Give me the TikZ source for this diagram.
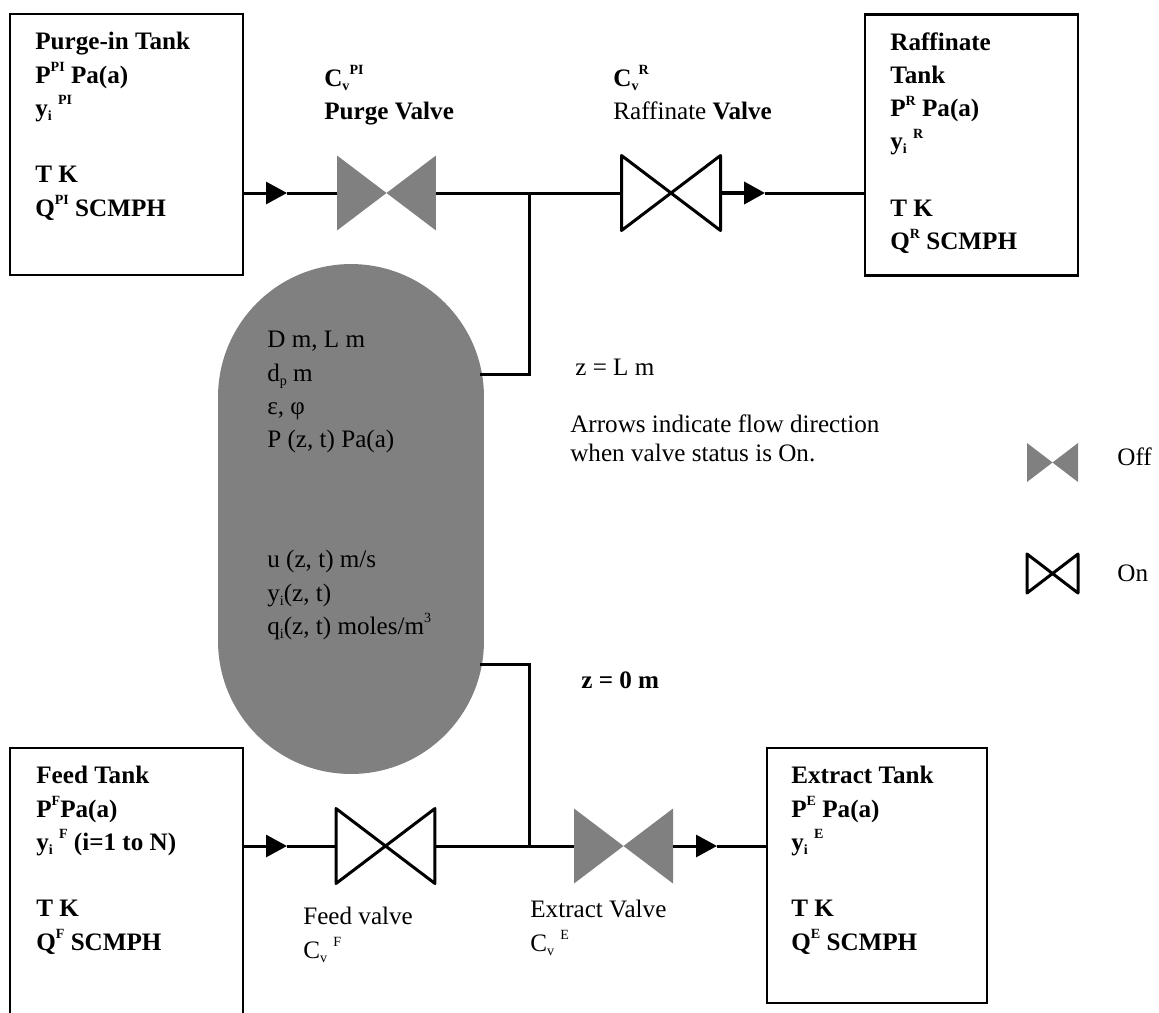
\documentclass[tikz,border=0pt]{standalone}
\usepackage{fontspec}
\setmainfont{Liberation Serif}
\usetikzlibrary{calc, positioning, arrows.meta}
\definecolor{valvegray}{RGB}{128,128,128}

\newcommand{\sps}[1]{\raisebox{1ex}{\fontsize{8}{8}\selectfont #1}}
\newcommand{\sbs}[1]{\raisebox{-0.35ex}{\fontsize{8}{8}\selectfont #1}}

\begin{document}
\begin{tikzpicture}[
    x=0.02cm, y=-0.02cm,
    tankbox/.style={draw, line width=0.056cm, minimum height=5.22cm, inner sep=0pt, outer sep=0pt},
    valvebox/.style={inner sep=0pt, outer sep=0pt, minimum width=1.98cm, minimum height=1.5cm},
    keybox/.style={inner sep=0pt, outer sep=0pt, minimum width=1.02cm, minimum height=0.78cm},
    pipe/.style={line width=0.06cm},
    flow/.style={pipe, -{Triangle[length=0.42cm, width=0.44cm]}},
    label/.style={anchor=base west, inner sep=0pt, font=\fontsize{14.3}{18.95}\selectfont},
    block/.style={anchor=north west, inner sep=0pt, align=left, font=\fontsize{14.3}{18.95}\selectfont},
    boldblock/.style={block, font=\fontsize{14.3}{18.95}\selectfont\bfseries}
]

    % 1. Figura inteira
    \useasboundingbox (0,0) rectangle (1159,1012);
    \clip (0,0) rectangle (1159,1012);

    % 2. Tanques
    \node[tankbox, minimum width=4.66cm] (purge) at (126.5,144.5) {};
    \node[tankbox, minimum width=4.26cm] (raff) at (971.5,145) {};
    \node[tankbox, minimum width=4.66cm, minimum height=5.84cm] (feed) at (126.5,894) {};
    \node[tankbox, minimum width=4.4cm, minimum height=5.1cm] (extract) at (877,875.5) {};

    % 3. Coluna
    \node[fill=valvegray, rounded corners=2.66cm, minimum width=5.32cm, minimum height=10.2cm,
          inner sep=0pt, outer sep=0pt] (column) at (351,519) {};

    % 4. Valvulas
    \node[valvebox] (pv) at (386.5,193) {};
    \node[valvebox] (rv) at (671,193) {};
    \node[valvebox] (fv) at (385.5,846) {};
    \node[valvebox] (ev) at (623.5,846) {};
    \node[keybox] (offkey) at (1052.5,462.5) {};
    \node[keybox] (onkey) at (1052.5,573.5) {};

    \foreach \v in {pv, ev, offkey}
        \fill[valvegray] (\v.north west) -- (\v.south east) -- (\v.north east) -- (\v.south west) -- cycle;
    \foreach \v in {rv, fv, onkey}
        \draw[pipe, line join=round] (\v.north west) -- (\v.south east) -- (\v.north east) -- (\v.south west) -- cycle;

    % 5. Juncoes
    \coordinate (jtop) at (529,193);
    \coordinate (jbot) at (529,846);
    \coordinate (ctop) at (480,374);
    \coordinate (cbot) at (480,664);

    % 6. Linhas
    \coordinate (apurge) at (287,193);
    \draw[flow] (purge.east |- apurge) -- (apurge);
    \draw[pipe] (apurge) -- (pv.west);
    \draw[pipe] (pv.east) -- (rv.west);
    \coordinate (araff) at (765,193);
    \draw[flow, line width=0.08cm] (rv.east) -- (araff);
    \draw[pipe] (araff) -- (raff.west |- araff);

    \coordinate (afeed) at (287,846);
    \draw[flow] (feed.east |- afeed) -- (afeed);
    \draw[pipe] (afeed) -- (fv.west);
    \draw[pipe] (fv.east) -- (ev.west);
    \coordinate (aext) at (717,846);
    \draw[flow] (ev.east) -- (aext);
    \draw[pipe] (aext) -- (extract.west |- aext);

    \draw[pipe] (jtop) -- (jtop |- ctop) -- (ctop);
    \draw[pipe] (cbot) -- (jbot |- cbot) -- (jbot);

    % 7. Textos dos tanques
    \node[boldblock] (purgetxt) at (35,32) {Purge-in Tank\\P\sps{PI} Pa(a)\\y\sbs{i} \sps{PI}\\[18.95pt]T K\\Q\sps{PI} SCMPH};
    \node[boldblock] (rafftxt) at (890,32) {Raffinate\\Tank\\P\sps{R} Pa(a)\\y\sbs{i} \sps{R}\\[18.95pt]T K\\Q\sps{R} SCMPH};
    \node[boldblock] (feedtxt) at (36,766) {Feed Tank\\P\sps{F}Pa(a)\\y\sbs{i} \sps{F} (i=1 to N)\\[18.95pt]T K\\Q\sps{F} SCMPH};
    \node[boldblock] (exttxt) at (791,766) {Extract Tank\\P\sps{E} Pa(a)\\y\sbs{i} \sps{E}\\[18.95pt]T K\\Q\sps{E} SCMPH};

    % 8. Textos das valvulas
    \node[boldblock] (pvtxt) at (324,65) {C\sbs{v}\sps{PI}\\Purge Valve};
    \node[block] (rvtxt) at (613,65) {\textbf{C\sbs{v}\sps{R}}\\Raffinate \textbf{Valve}};
    \node[block] (fvtxt) at (303,907) {Feed valve\\C\sbs{v} \sps{F}};
    \node[block] (evtxt) at (530,900) {Extract Valve\\C\sbs{v} \sps{E}};

    % 9. Textos da coluna
    \node[block] (coltop) at (267,331) {D m, L m\\d\sbs{p} m\\ε, φ\\P (z, t) Pa(a)};
    \node[block] (colbot) at (267,550) {u (z, t) m/s\\y\sbs{i}(z, t)\\q\sbs{i}(z, t) moles/m\sps{3}};

    % 10. Notas
    \node[label] (ztop) at (575,375) {z = L m};
    \node[block, font=\fontsize{14.3}{17}\selectfont] (note) at (570,414) {Arrows indicate flow direction\\when valve status is On.};
    \node[label, font=\fontsize{14.3}{18.95}\selectfont\bfseries] (zbot) at (581,688) {z = 0 m};
    \node[label] (offtxt) at (1117,465) {Off};
    \node[label] (ontxt) at (1117,581) {On};

\end{tikzpicture}
\end{document}
